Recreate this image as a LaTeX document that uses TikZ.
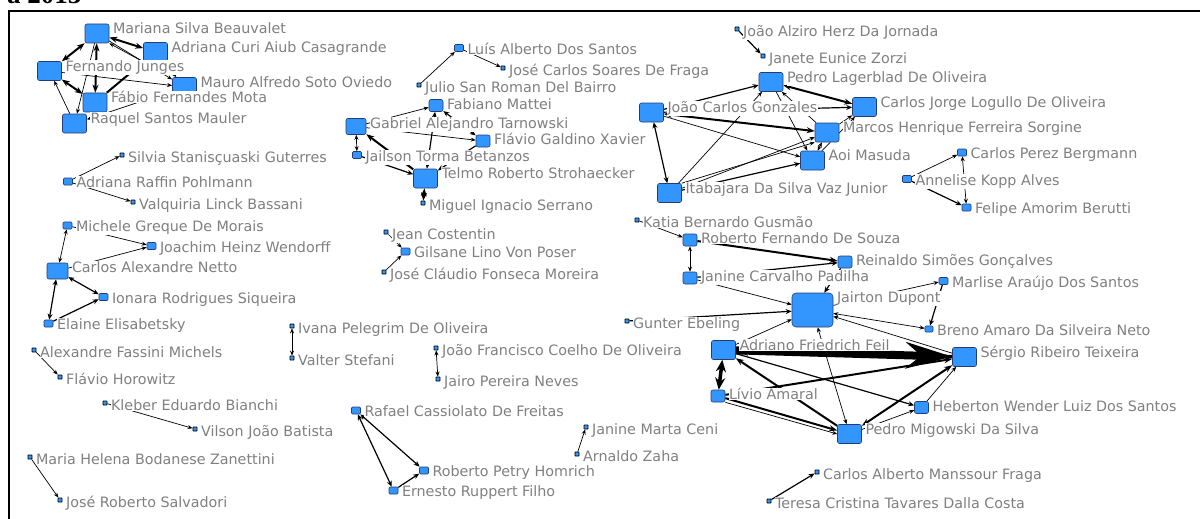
\documentclass[tikz,border=0pt]{standalone}
\usepackage{fontspec}
\usepackage{tikz}
\usetikzlibrary{arrows,arrows.meta,shapes}
\usetikzlibrary{positioning}
\newfontfamily\namefont{DejaVu Sans}
\newfontfamily\titlefont{Liberation Serif}
\definecolor{actorblue}{RGB}{51,150,255}
\definecolor{actoredge}{RGB}{35,60,115}
\definecolor{namegray}{RGB}{128,128,128}
\pgfdeclarelayer{edges}
\pgfdeclarelayer{labels}
\pgfsetlayers{edges,main,labels}
\tikzstyle{actor}=[draw=actoredge,fill=actorblue,rounded corners=2pt,inner sep=0pt,line width=0.6pt]
\tikzstyle{big}=[actor,minimum width=24pt,minimum height=19pt]
\tikzstyle{mid}=[actor,minimum width=14pt,minimum height=12pt]
\tikzstyle{small}=[actor,minimum width=9pt,minimum height=7pt,rounded corners=1pt]
\tikzstyle{dot}=[actor,draw=black,minimum width=4pt,minimum height=4pt,rounded corners=0.5pt,line width=0.8pt]
\tikzstyle{who}=[anchor=base west,fill=white,inner sep=0.5pt,text=namegray,
                 font=\namefont\fontsize{14.3}{17}\selectfont,xshift=3pt,yshift=-10pt]
\tikzstyle{tie}=[->,>={Stealth[length=5pt,width=4pt]},line width=0.7pt]
\tikzstyle{tie2}=[->,>={Stealth[length=6pt,width=5pt]},line width=1.2pt]
\tikzstyle{tie3}=[->,>={Stealth[length=8pt,width=6pt]},line width=2pt]
\tikzstyle{tie4}=[->,>={Stealth[length=12pt,width=10pt]},line width=3.5pt]
\tikzstyle{heavy}=[->,>={Stealth[length=46pt,width=26pt]},line width=8pt]

\begin{document}
\begin{tikzpicture}[x=1pt,y=-1pt]
\useasboundingbox (0,0) rectangle (1200,519);
\clip (0,0) rectangle (1200,519);
\node[anchor=base west,inner sep=0pt,font=\titlefont\bfseries\fontsize{27}{30}\selectfont] (title) at (7,3.5) {a 2013};
\draw[line width=2pt] (9,519) -- (9,11) -- (1200,11);

\node[big] (mariana) at (97,33.5) {};
\node[big] (adrianac) at (155.5,52) {};
\node[big] (fernando) at (49.5,71) {};
\node[big] (mauro) at (184.5,87) {};
\node[big] (fabio) at (95,102.5) {};
\node[big] (raquel) at (74.5,123.5) {};
\node[small] (luis) at (459,48) {};
\node[dot] (josecs) at (503,68) {};
\node[dot] (julio) at (419,85) {};
\node[mid] (fabiano) at (436,105.5) {};
\node[big,minimum width=20pt,minimum height=16pt] (gabriel) at (356,126.5) {};
\node[mid] (flaviog) at (483,141) {};
\node[small] (jailson) at (357,155) {};
\node[big] (telmo) at (425.5,178.5) {};
\node[dot] (miguel) at (423,203) {};
\node[dot] (joaoaz) at (737,29) {};
\node[dot] (janete) at (763,56) {};
\node[big] (pedrol) at (771,82) {};
\node[big] (carlosj) at (864.5,107) {};
\node[big] (joaocg) at (651.5,112.5) {};
\node[big] (marcos) at (827,132.5) {};
\node[big] (aoi) at (812.5,160.5) {};
\node[big] (itabajara) at (669.5,193) {};
\node[small] (carlosp) at (962,152.5) {};
\node[small] (annelise) at (907,179) {};
\node[small] (felipe) at (966.5,207.5) {};
\node[dot] (silvia) at (122,155) {};
\node[small] (adrianar) at (68,181.5) {};
\node[dot] (valquiria) at (133,202) {};
\node[small] (michele) at (67.5,225.5) {};
\node[small] (joachim) at (151.5,246) {};
\node[big,minimum width=21pt,minimum height=16pt] (carlosa) at (57.5,271) {};
\node[small] (ionara) at (103.5,297) {};
\node[small] (elaine) at (48.5,323.5) {};
\node[dot] (alexandre) at (34,350) {};
\node[dot] (flaviohor) at (60,377) {};
\node[dot] (kleber) at (105,403) {};
\node[dot] (vilson) at (195,429) {};
\node[dot] (maria) at (30,457) {};
\node[dot] (joser) at (60,500) {};
\node[dot] (jean) at (386,232) {};
\node[small] (gilsane) at (405.5,251.5) {};
\node[dot] (josecl) at (384,272) {};
\node[dot] (ivana) at (292,326) {};
\node[dot] (valter) at (292,358) {};
\node[dot] (joaof) at (436,348) {};
\node[dot] (jairo) at (438,379) {};
\node[dot] (katia) at (637,220) {};
\node[mid] (robertof) at (690,240) {};
\node[mid] (reinaldo) at (845,262) {};
\node[mid] (janine) at (690,278) {};
\node[big,minimum width=41pt,minimum height=34pt,rounded corners=4pt] (jairton) at (812.5,310) {};
\node[small] (marlise) at (943.5,281) {};
\node[small,minimum width=8pt,minimum height=6pt] (breno) at (929,329) {};
\node[dot] (gunter) at (627,321) {};
\node[big] (adriano) at (723.5,350) {};
\node[big] (sergio) at (964.5,357) {};
\node[mid] (livio) at (718,396) {};
\node[mid] (heberton) at (921.5,407.5) {};
\node[big] (pedrom) at (849.5,434) {};
\node[dot] (carlosam) at (817,472) {};
\node[dot] (teresa) at (769,501) {};
\node[small] (rafael) at (356,410.5) {};
\node[small] (robertop) at (424,470.5) {};
\node[small] (ernesto) at (393.5,490.5) {};
\node[dot] (janinem) at (586,427) {};
\node[dot] (arnaldo) at (577,454) {};

\begin{pgfonlayer}{labels}
\node[who] at (mariana.north east) {Mariana Silva Beauvalet};
\node[who] at (adrianac.north east) {Adriana Curi Aiub Casagrande};
\node[who] at (fernando.north east) {Fernando Junges};
\node[who] at (mauro.north east) {Mauro Alfredo Soto Oviedo};
\node[who] at (fabio.north east) {Fábio Fernandes Mota};
\node[who] at (raquel.north east) {Raquel Santos Mauler};
\node[who] at (luis.north east) {Luís Alberto Dos Santos};
\node[who] at (josecs.north east) {José Carlos Soares De Fraga};
\node[who] at (julio.north east) {Julio San Roman Del Bairro};
\node[who] at (fabiano.north east) {Fabiano Mattei};
\node[who] at (gabriel.north east) {Gabriel Alejandro Tarnowski};
\node[who] at (flaviog.north east) {Flávio Galdino Xavier};
\node[who] at (jailson.north east) {Jailson Torma Betanzos};
\node[who] at (telmo.north east) {Telmo Roberto Strohaecker};
\node[who] at (miguel.north east) {Miguel Ignacio Serrano};
\node[who] at (joaoaz.north east) {João Alziro Herz Da Jornada};
\node[who] at (janete.north east) {Janete Eunice Zorzi};
\node[who] at (pedrol.north east) {Pedro Lagerblad De Oliveira};
\node[who] at (carlosj.north east) {Carlos Jorge Logullo De Oliveira};
\node[who] at (joaocg.north east) {João Carlos Gonzales};
\node[who] at (marcos.north east) {Marcos Henrique Ferreira Sorgine};
\node[who] at (aoi.north east) {Aoi Masuda};
\node[who] at (itabajara.north east) {Itabajara Da Silva Vaz Junior};
\node[who] at (carlosp.north east) {Carlos Perez Bergmann};
\node[who] at (annelise.north east) {Annelise Kopp Alves};
\node[who] at (felipe.north east) {Felipe Amorim Berutti};
\node[who] at (silvia.north east) {Silvia Stanisçuaski Guterres};
\node[who] at (adrianar.north east) {Adriana Raffin Pohlmann};
\node[who] at (valquiria.north east) {Valquiria Linck Bassani};
\node[who] at (michele.north east) {Michele Greque De Morais};
\node[who] at (joachim.north east) {Joachim Heinz Wendorff};
\node[who] at (carlosa.north east) {Carlos Alexandre Netto};
\node[who] at (ionara.north east) {Ionara Rodrigues Siqueira};
\node[who] at (elaine.north east) {Elaine Elisabetsky};
\node[who] at (alexandre.north east) {Alexandre Fassini Michels};
\node[who] at (flaviohor.north east) {Flávio Horowitz};
\node[who] at (kleber.north east) {Kleber Eduardo Bianchi};
\node[who] at (vilson.north east) {Vilson João Batista};
\node[who] at (maria.north east) {Maria Helena Bodanese Zanettini};
\node[who] at (joser.north east) {José Roberto Salvadori};
\node[who] at (jean.north east) {Jean Costentin};
\node[who] at (gilsane.north east) {Gilsane Lino Von Poser};
\node[who] at (josecl.north east) {José Cláudio Fonseca Moreira};
\node[who] at (ivana.north east) {Ivana Pelegrim De Oliveira};
\node[who] at (valter.north east) {Valter Stefani};
\node[who] at (joaof.north east) {João Francisco Coelho De Oliveira};
\node[who] at (jairo.north east) {Jairo Pereira Neves};
\node[who] at (katia.north east) {Katia Bernardo Gusmão};
\node[who] at (robertof.north east) {Roberto Fernando De Souza};
\node[who] at (reinaldo.north east) {Reinaldo Simões Gonçalves};
\node[who] at (janine.north east) {Janine Carvalho Padilha};
\node[who] at (jairton.north east) {Jairton Dupont};
\node[who] at (marlise.north east) {Marlise Araújo Dos Santos};
\node[who] at (breno.north east) {Breno Amaro Da Silveira Neto};
\node[who] at (gunter.north east) {Gunter Ebeling};
\node[who] at (adriano.north east) {Adriano Friedrich Feil};
\node[who] at (sergio.north east) {Sérgio Ribeiro Teixeira};
\node[who] at (livio.north east) {Lívio Amaral};
\node[who] at (heberton.north east) {Heberton Wender Luiz Dos Santos};
\node[who] at (pedrom.north east) {Pedro Migowski Da Silva};
\node[who] at (carlosam.north east) {Carlos Alberto Manssour Fraga};
\node[who] at (teresa.north east) {Teresa Cristina Tavares Dalla Costa};
\node[who] at (rafael.north east) {Rafael Cassiolato De Freitas};
\node[who] at (robertop.north east) {Roberto Petry Homrich};
\node[who] at (ernesto.north east) {Ernesto Ruppert Filho};
\node[who] at (janinem.north east) {Janine Marta Ceni};
\node[who] at (arnaldo.north east) {Arnaldo Zaha};
\end{pgfonlayer}

\begin{pgfonlayer}{edges}
\draw[tie3,<->] (fernando) -- (mariana);
\draw[tie3,<->] (mariana) -- (adrianac);
\draw[tie] (adrianac.south west) -- (mariana.south east);
\draw[tie3,<->] (mariana) -- (fabio);
\draw[tie3,<->] (fernando) -- (fabio);
\draw[tie] (raquel) -- (fernando);
\draw[tie] (mariana) -- (raquel);
\draw[tie] (fernando) -- (mauro);
\draw[tie3] (fabio) -- (adrianac);
\draw[tie] (mariana) -- (mauro);
\draw[tie] (adrianac) -- (mauro);
\draw[tie] (mauro) -- (raquel);
\draw[tie] (julio) -- (luis);
\draw[tie] (luis) -- (josecs);
\draw[tie,<->] (gabriel) -- (jailson);
\draw[tie3] (telmo) -- (gabriel);
\draw[tie2] (jailson) -- (telmo);
\draw[tie] (gabriel) -- (fabiano);
\draw[tie] (gabriel) -- (flaviog);
\draw[tie2,<->] (fabiano) -- (flaviog);
\draw[tie2,<->] (fabiano) -- (telmo);
\draw[tie2] (flaviog) -- (telmo);
\draw[tie3,<->] (telmo) -- (miguel);
\draw[tie2] (joaoaz) -- (janete);
\draw[tie2,<->] (joaocg) -- (itabajara);
\draw[tie3,<->] (joaocg) -- (marcos);
\draw[tie] (joaocg) -- (aoi);
\draw[tie] (itabajara) -- (pedrol);
\draw[tie] (itabajara) -- (marcos);
\draw[tie] (itabajara.north east) -- (marcos.south west);
\draw[tie2] (itabajara) -- (aoi);
\draw[tie2] (joaocg) -- (pedrol);
\draw[tie3,<->] (pedrol) -- (carlosj);
\draw[tie2] (joaocg) -- (carlosj);
\draw[tie] (marcos) -- (carlosj);
\draw[tie] (aoi) -- (carlosj);
\draw[tie] (marcos) -- (pedrol);
\draw[tie] (pedrol) -- (aoi);
\draw[tie,<->] (marcos) -- (aoi);
\draw[tie] (annelise) -- (carlosp);
\draw[tie2] (annelise) -- (felipe);
\draw[tie,<->] (carlosp) -- (felipe);
\draw[tie] (adrianar) -- (silvia);
\draw[tie] (adrianar) -- (valquiria);
\draw[tie,<->] (michele) -- (carlosa);
\draw[tie] (michele) -- (joachim);
\draw[tie] (carlosa) -- (joachim);
\draw[tie2,<->] (carlosa) -- (ionara);
\draw[tie2,<->] (carlosa) -- (elaine);
\draw[tie2] (elaine) -- (ionara);
\draw[tie] (alexandre) -- (flaviohor);
\draw[tie] (kleber) -- (vilson);
\draw[tie] (maria) -- (joser);
\draw[tie] (jean) -- (gilsane);
\draw[tie] (josecl) -- (gilsane);
\draw[tie,<->] (ivana) -- (valter);
\draw[tie,<->] (joaof) -- (jairo);
\draw[tie] (arnaldo) -- (janinem);
\draw[tie2,<->] (rafael) -- (ernesto);
\draw[tie2,<->] (rafael) -- (robertop);
\draw[tie2] (ernesto) -- (robertop);
\draw[tie] (katia) -- (robertof);
\draw[tie,<->] (robertof) -- (janine);
\draw[tie3] (robertof) -- (reinaldo);
\draw[tie2] (janine) -- (reinaldo);
\draw[tie] (janine) -- (jairton);
\draw[tie2] (gunter) -- (jairton);
\draw[tie] (adriano) -- (jairton);
\draw[tie2] (reinaldo) -- (jairton);
\draw[tie] (jairton) -- (marlise);
\draw[tie2] (marlise) -- (breno);
\draw[tie,<->] (jairton) -- (breno);
\draw[tie] (sergio) -- (jairton);
\draw[tie,<->] (jairton) -- (pedrom);
\draw[heavy] (adriano) -- (sergio);
\draw[tie4] (sergio) -- (adriano);
\draw[tie4,<->] (adriano) -- (livio);
\draw[tie3] (livio) -- (sergio);
\draw[tie3] (pedrom) -- (adriano);
\draw[tie3] (livio) -- (pedrom);
\draw[tie] (livio.south east) -- (pedrom.west);
\draw[tie2] (adriano) -- (heberton);
\draw[tie3,<->] (sergio) -- (pedrom);
\draw[tie] (pedrom) -- (heberton);
\draw[tie] (heberton) -- (sergio);
\draw[tie2] (teresa) -- (carlosam);
\end{pgfonlayer}
\end{tikzpicture}
\end{document}
